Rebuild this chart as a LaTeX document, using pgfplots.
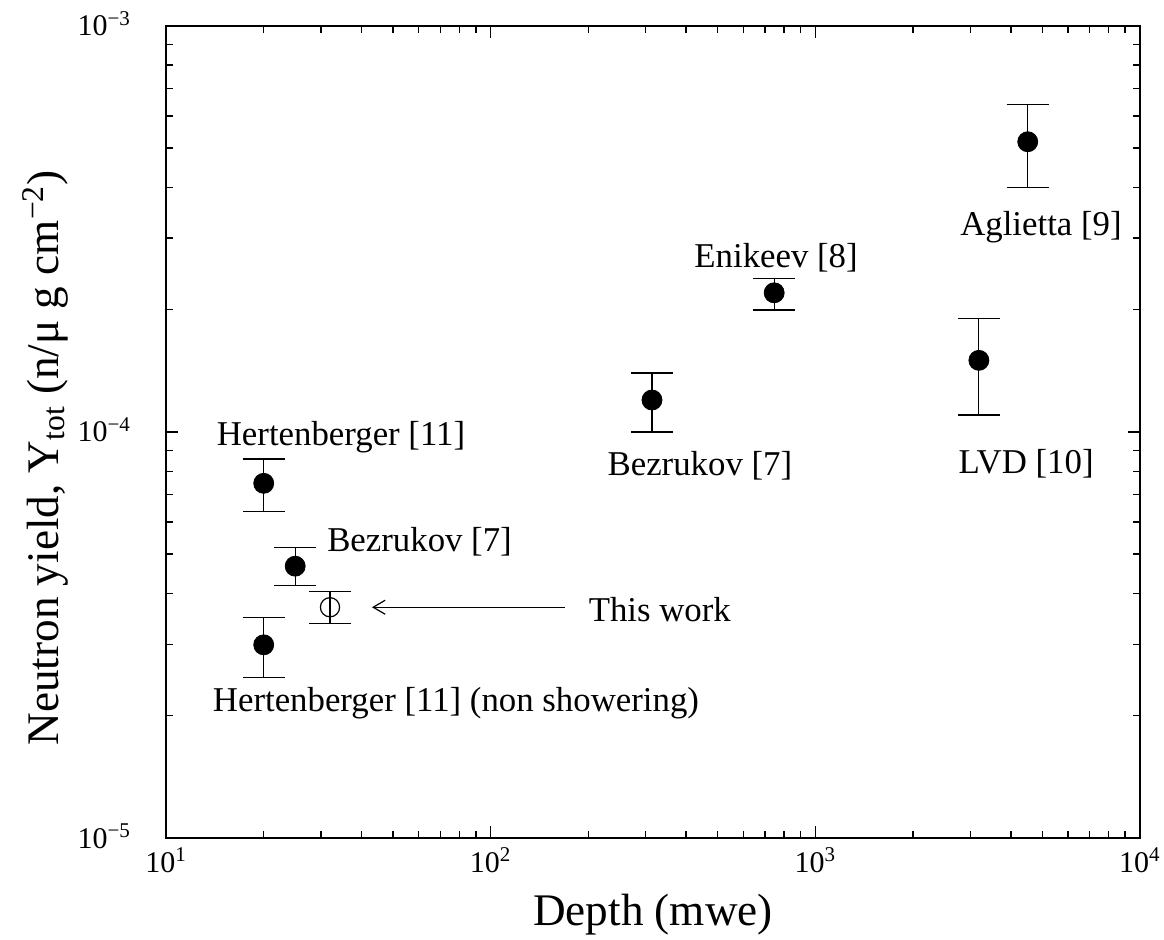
\documentclass[border=0pt]{standalone}
\usepackage{fontspec}
\setmainfont{Liberation Serif}
\usepackage{pgfplots}
\pgfplotsset{compat=1.18}
\usetikzlibrary{arrows.meta}
\pgfplotstableread{
x y ep em
20 7.47e-5 1.10e-5 1.09e-5
25 4.67e-5 0.52e-5 0.49e-5
20 2.99e-5 0.50e-5 0.50e-5
314 1.198e-4 0.198e-4 0.199e-4
747 2.20e-4 0.19e-4 0.205e-4
3190 1.50e-4 0.40e-4 0.40e-4
4510 5.18e-4 1.22e-4 1.18e-4
}\filled
\pgfplotstableread{
x y ep em
32 3.70e-5 0.34e-5 0.32e-5
}\thiswork
\newcommand{\tl}[2]{\fontsize{15}{15}\selectfont 10\textsuperscript{#1}}
\begin{document}
\begin{tikzpicture}
\path[use as bounding box] (-83pt,-51pt) rectangle (499pt,419pt);
\begin{axis}[
 xmode=log, ymode=log, scale only axis, width=487pt, height=406.15pt,
 xmin=10, xmax=10000, ymin=1e-5, ymax=1e-3,
 xtick={10,100,1000,10000},
 xticklabels={\tl{1}{},\tl{2}{},\tl{3}{},\tl{4}{}},
 minor xtick={20,30,40,50,60,70,80,90,200,300,400,500,600,700,800,900,2000,3000,4000,5000,6000,7000,8000,9000},
 ytick={1e-5,1e-4,1e-3},
 yticklabels={\tl{−5}{},\tl{−4}{},\tl{−3}{}},
 minor ytick={2e-5,3e-5,4e-5,5e-5,6e-5,7e-5,8e-5,9e-5,2e-4,3e-4,4e-4,5e-4,6e-4,7e-4,8e-4,9e-4},
 tick align=inside, major tick length=6pt, minor tick length=3.5pt,
 axis line style={line width=1pt},
 every tick/.style={black, line width=0.7pt},
 tick label style={font=\fontsize{15}{15}\selectfont},
 xticklabel style={anchor=north, yshift=-1.5pt},
 yticklabel style={anchor=base east, xshift=-14pt, yshift=-5pt},
 xlabel={Depth (mwe)},
 ylabel={Neutron yield, Y\textsubscript{tot} (n/μ g cm\textsuperscript{−2})},
 xlabel style={font=\fontsize{22.6}{22.6}\selectfont, at={(axis description cs:0.5,-0.1083)}, anchor=base},
 ylabel style={font=\fontsize{22.6}{22.6}\selectfont, at={(axis description cs:-0.124,0.468)}, anchor=center, rotate=0},
 clip=false,
]
\addplot[only marks, mark=*, mark size=5pt, mark options={fill=black},
  error bars/.cd, y dir=both, y explicit,
  error bar style={line width=0.6pt, black},
  error mark options={rotate=90, mark size=10.5pt, line width=0.6pt, black}]
  table[x=x, y=y, y error plus=ep, y error minus=em]{\filled};
\addplot[only marks, mark=o, mark size=4.8pt, mark options={line width=0.6pt, fill=none},
  error bars/.cd, y dir=both, y explicit,
  error bar style={line width=0.6pt, black},
  error mark options={rotate=90, mark size=10.5pt, line width=0.6pt, black}]
  table[x=x, y=y, y error plus=ep, y error minus=em]{\thiswork};
\begin{scope}[font=\fontsize{17.4}{17.4}\selectfont]
\node at (axis cs:34.6,9.71e-5) {Hertenberger [11]};
\node[anchor=base west, inner sep=0pt] at (axis cs:31.3,5.07e-5) {Bezrukov [7]};
\node at (axis cs:332,3.66e-5) {This work};
\node at (axis cs:78.2,2.15e-5) {Hertenberger [11] (non showering)};
\node at (axis cs:441,8.24e-5) {Bezrukov [7]};
\node at (axis cs:757,2.69e-4) {Enikeev [8]};
\node at (axis cs:4460,8.33e-5) {LVD [10]};
\node at (axis cs:4955,3.19e-4) {Aglietta [9]};
\end{scope}
\draw[line width=0.6pt, -{Straight Barb[length=6pt, width=7pt]}] (axis cs:169,3.70e-5) -- (axis cs:43.1,3.70e-5);
\end{axis}
\end{tikzpicture}
\end{document}
